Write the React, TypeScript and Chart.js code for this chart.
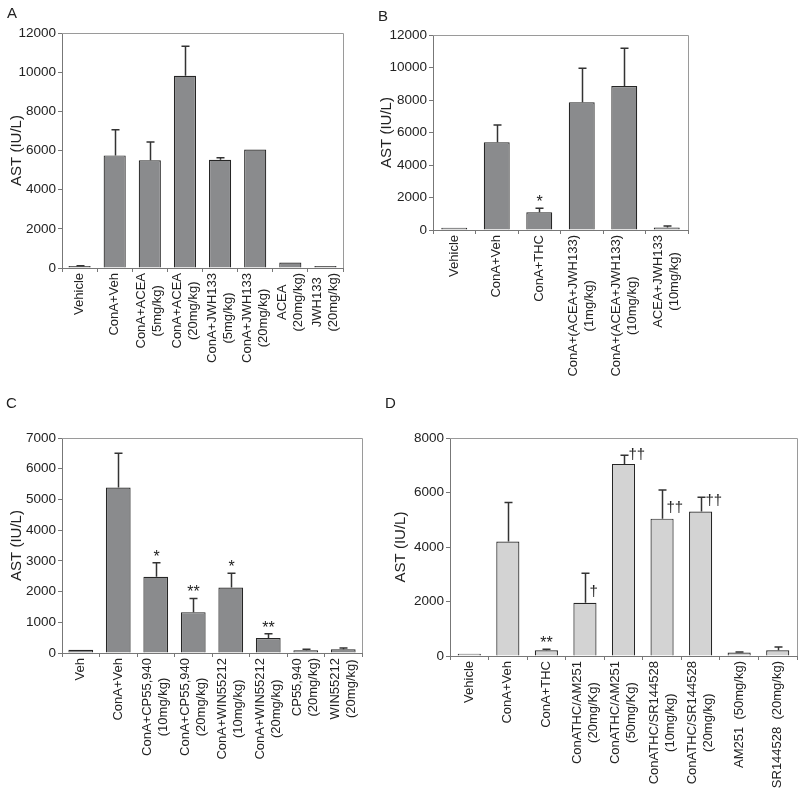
import React, { useEffect, useRef } from "react";
import { Chart, registerables } from "chart.js";

Chart.register(...registerables);

const FONT = '"Liberation Sans", Arial, Helvetica, sans-serif';
const Y_TITLE = "AST (IU/L)";

// ---------- Panel A ----------
const aLabels: string[][] = [
  ["Vehicle"],
  ["ConA+Veh"],
  ["ConA+ACEA", "(5mg/kg)"],
  ["ConA+ACEA", "(20mg/kg)"],
  ["ConA+JWH133", "(5mg/kg)"],
  ["ConA+JWH133", "(20mg/kg)"],
  ["ACEA", "(20mg/kg)"],
  ["JWH133", "(20mg/kg)"],
];
const aMeans = [100, 5750, 5500, 9820, 5530, 6050, 280, 100];
const aErrors = [20, 1310, 940, 1500, 100, 0, 0, 0];
const aMarks = ["", "", "", "", "", "", "", ""];

// ---------- Panel B ----------
const bLabels: string[][] = [
  ["Vehicle"],
  ["ConA+Veh"],
  ["ConA+THC"],
  ["ConA+(ACEA+JWH133)", "(1mg/kg)"],
  ["ConA+(ACEA+JWH133)", "(10mg/kg)"],
  ["ACEA+JWH133", "(10mg/kg)"],
];
const bMeans = [140, 5400, 1090, 7860, 8860, 160];
const bErrors = [0, 1060, 245, 2090, 2320, 90];
const bMarks = ["", "", "*", "", "", ""];

// ---------- Panel C ----------
const cLabels: string[][] = [
  ["Veh"],
  ["ConA+Veh"],
  ["ConA+CP55,940", "(10mg/kg)"],
  ["ConA+CP55,940", "(20mg/kg)"],
  ["ConA+WIN55212", "(10mg/kg)"],
  ["ConA+WIN55212", "(20mg/kg)"],
  ["CP55,940", "(20mg/kg)"],
  ["WIN55212", "(20mg/kg)"],
];
const cMeans = [105, 5390, 2480, 1330, 2130, 490, 90, 120];
const cErrors = [0, 1110, 460, 445, 470, 140, 30, 45];
const cMarks = ["", "", "*", "**", "*", "**", "", ""];

// ---------- Panel D ----------
const dLabels: string[][] = [
  ["Vehicle"],
  ["ConA+Veh"],
  ["ConA+THC"],
  ["ConATHC/AM251", "(20mg/Kg)"],
  ["ConATHC/AM251", "(50mg/Kg)"],
  ["ConATHC/SR144528", "(10mg/kg)"],
  ["ConATHC/SR144528", "(20mg/kg)"],
  ["AM251  (50mg/kg)"],
  ["SR144528  (20mg/kg)"],
];
const dMeans = [85, 4200, 210, 1950, 7050, 5040, 5300, 125, 210];
const dErrors = [0, 1430, 35, 1090, 320, 1055, 530, 20, 120];
const dMarks = ["", "", "**", "†", "††", "††", "††", "", ""];

type Box = { left: number; top: number; w: number; h: number };
type Area = { left: number; top: number; right: number; bottom: number };

interface PanelProps {
  letter: string;
  letterPos: { left: number; top: number };
  labels: string[][];
  means: number[];
  errors: number[];
  marks: string[];
  yMax: number;
  yStep: number;
  fill: string;
  barPct: number;
  box: Box;
  area: Area; // absolute page coords of plot area
}

function Panel(p: PanelProps) {
  const ref = useRef<HTMLCanvasElement | null>(null);

  useEffect(() => {
    const canvas = ref.current;
    if (!canvas) return;
    const { box, area } = p;
    const yW = area.left - box.left;
    const padTop = area.top - box.top;
    const padRight = box.left + box.w - area.right;
    const xH = box.top + box.h - area.bottom;

    const framePlugin = {
      id: "frame",
      beforeDatasetsDraw(chart: any) {
        const { ctx, chartArea } = chart;
        ctx.save();
        ctx.strokeStyle = "#9a9a9a";
        ctx.lineWidth = 1;
        ctx.beginPath();
        ctx.moveTo(chartArea.left, chartArea.top + 0.5);
        ctx.lineTo(chartArea.right + 0.5, chartArea.top + 0.5);
        ctx.lineTo(chartArea.right + 0.5, chartArea.bottom);
        ctx.stroke();
        ctx.restore();
      },
    };

    const errPlugin = {
      id: "errs",
      afterDatasetsDraw(chart: any) {
        const { ctx } = chart;
        const xs = chart.scales.x;
        const ys = chart.scales.y;
        ctx.save();
        p.means.forEach((m, i) => {
          const x = Math.round(xs.getPixelForValue(i)) + 0.5;
          const yBar = ys.getPixelForValue(m);
          const e = p.errors[i];
          let yTop = yBar;
          if (e > 0) {
            yTop = ys.getPixelForValue(m + e);
            ctx.strokeStyle = "#333";
            ctx.lineWidth = 1.5;
            ctx.beginPath();
            ctx.moveTo(x, yBar);
            ctx.lineTo(x, yTop);
            ctx.moveTo(x - 4, yTop);
            ctx.lineTo(x + 4, yTop);
            ctx.stroke();
          }
          const mk = p.marks[i];
          if (!mk) return;
          ctx.fillStyle = "#222";
          if (mk.includes("†")) {
            ctx.font = `15px ${FONT}`;
            ctx.textAlign = "left";
            ctx.textBaseline = "middle";
            const yc = Math.max(yTop, yBar - 11);
            ctx.fillText(mk, x + 4, yc);
          } else {
            ctx.font = `16px ${FONT}`;
            ctx.textAlign = "center";
            ctx.textBaseline = "alphabetic";
            ctx.fillText(mk, x, yTop - 1);
          }
        });
        ctx.restore();
      },
    };

    const labelPlugin = {
      id: "xlabels",
      afterDraw(chart: any) {
        const { ctx, chartArea } = chart;
        const xs = chart.scales.x;
        const top = chartArea.bottom + 5;
        const LH = 16;
        ctx.save();
        ctx.font = `13px ${FONT}`;
        ctx.fillStyle = "#222";
        p.labels.forEach((lines, i) => {
          const x = xs.getPixelForValue(i);
          const w = Math.max(...lines.map((l) => ctx.measureText(l).width));
          ctx.save();
          ctx.translate(x, top);
          ctx.rotate(-Math.PI / 2);
          ctx.textAlign = "center";
          ctx.textBaseline = "middle";
          lines.forEach((l, j) => {
            ctx.fillText(l, -w / 2, (j - (lines.length - 1) / 2) * LH);
          });
          ctx.restore();
        });
        ctx.restore();
      },
    };

    const chart = new Chart(canvas, {
      type: "bar",
      data: {
        labels: p.labels.map((l) => l.join(" ")),
        datasets: [
          {
            data: p.means,
            backgroundColor: p.fill,
            borderColor: "#262626",
            borderWidth: 1.2,
            barPercentage: p.barPct,
            categoryPercentage: 1,
          },
        ],
      },
      options: {
        responsive: false,
        maintainAspectRatio: false,
        animation: false,
        devicePixelRatio: 1,
        layout: { padding: { top: padTop, right: padRight, left: 0, bottom: 0 } },
        plugins: { legend: { display: false }, tooltip: { enabled: false } },
        scales: {
          x: {
            type: "category",
            offset: true,
            grid: {
              offset: true,
              drawOnChartArea: false,
              drawTicks: true,
              tickLength: 4,
              color: "#777",
            },
            border: { color: "#777" },
            ticks: { display: false },
            afterFit: (s: any) => {
              s.height = xH;
              s.paddingLeft = 0;
              s.paddingRight = 0;
            },
          },
          y: {
            min: 0,
            max: p.yMax,
            ticks: {
              stepSize: p.yStep,
              padding: 2,
              color: "#222",
              font: { family: FONT, size: 13.5 },
              callback: (v: any) => String(v),
            },
            grid: { drawOnChartArea: false, tickLength: 4, color: "#777" },
            border: { color: "#777" },
            title: {
              display: true,
              text: Y_TITLE,
              color: "#222",
              font: { family: FONT, size: 15 },
              padding: { top: 8, bottom: 0 },
            },
            afterFit: (s: any) => {
              s.width = yW;
            },
          },
        },
      } as any,
      plugins: [framePlugin, errPlugin, labelPlugin],
    });
    return () => chart.destroy();
  }, []);

  return (
    <>
      <canvas
        ref={ref}
        width={p.box.w}
        height={p.box.h}
        style={{
          position: "absolute",
          left: p.box.left,
          top: p.box.top,
          width: p.box.w,
          height: p.box.h,
          display: "block",
        }}
      />
      <div
        style={{
          position: "absolute",
          left: p.letterPos.left,
          top: p.letterPos.top,
          font: `15px ${FONT}`,
          lineHeight: "17px",
          color: "#222",
        }}
      >
        {p.letter}
      </div>
    </>
  );
}

export default function App() {
  return (
    <div
      style={{
        position: "absolute",
        left: 0,
        top: 0,
        width: 800,
        height: 788,
        background: "#fff",
        overflow: "hidden",
      }}
    >
      <Panel
        letter="A"
        letterPos={{ left: 7, top: 4 }}
        labels={aLabels}
        means={aMeans}
        errors={aErrors}
        marks={aMarks}
        yMax={12000}
        yStep={2000}
        fill="#8a8b8d"
        barPct={0.63}
        box={{ left: 0, top: 0, w: 400, h: 394 }}
        area={{ left: 62, top: 33, right: 343, bottom: 268 }}
      />
      <Panel
        letter="B"
        letterPos={{ left: 378, top: 7 }}
        labels={bLabels}
        means={bMeans}
        errors={bErrors}
        marks={bMarks}
        yMax={12000}
        yStep={2000}
        fill="#8a8b8d"
        barPct={0.61}
        box={{ left: 370, top: 0, w: 430, h: 394 }}
        area={{ left: 433, top: 35, right: 688, bottom: 230 }}
      />
      <Panel
        letter="C"
        letterPos={{ left: 6, top: 394 }}
        labels={cLabels}
        means={cMeans}
        errors={cErrors}
        marks={cMarks}
        yMax={7000}
        yStep={1000}
        fill="#8a8b8d"
        barPct={0.66}
        box={{ left: 0, top: 394, w: 400, h: 394 }}
        area={{ left: 62, top: 438, right: 362, bottom: 653 }}
      />
      <Panel
        letter="D"
        letterPos={{ left: 385, top: 394 }}
        labels={dLabels}
        means={dMeans}
        errors={dErrors}
        marks={dMarks}
        yMax={8000}
        yStep={2000}
        fill="#d3d3d3"
        barPct={0.6}
        box={{ left: 384, top: 394, w: 416, h: 394 }}
        area={{ left: 450, top: 438, right: 797, bottom: 656 }}
      />
    </div>
  );
}
